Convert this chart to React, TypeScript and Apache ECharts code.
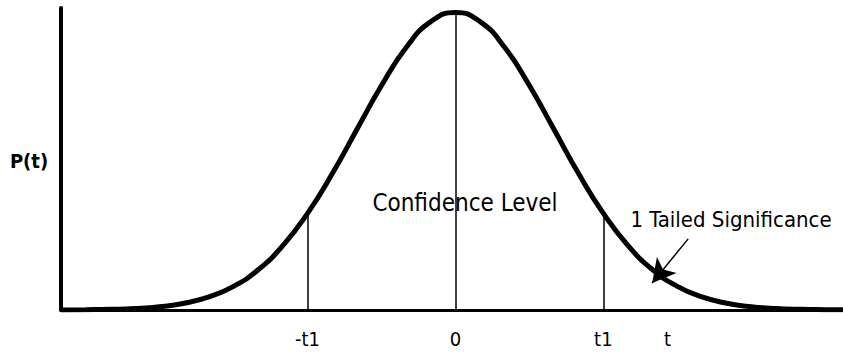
import React, { useEffect, useRef } from "react";
import * as echarts from "echarts";

// t values (x) and P(t) values (y)
const tValues = [-4, -3.75, -3.5, -3.25, -3, -2.75, -2.5, -2.25, -2, -1.75, -1.5, -1.25, -1, -0.75, -0.5, -0.25, 0, 0.25, 0.5, 0.75, 1, 1.25, 1.5, 1.75, 2, 2.25, 2.5, 2.75, 3, 3.25, 3.5, 3.75, 3.93];
const pValues = [0.0001, 0.0004, 0.0009, 0.002, 0.0044, 0.0091, 0.0175, 0.0317, 0.054, 0.0863, 0.1295, 0.1826, 0.242, 0.3011, 0.3521, 0.3867, 0.3989, 0.3867, 0.3521, 0.3011, 0.242, 0.1826, 0.1295, 0.0863, 0.054, 0.0317, 0.0175, 0.0091, 0.0044, 0.002, 0.0009, 0.0004, 0.0002];

// vertical reference lines: [t, height]
const refLines: [number, number][] = [[-1.5, 0.1295], [0, 0.3989], [1.5, 0.1295]];

// tick labels on the t axis
const tickValues = [-1.5, 0, 1.5, 2.15];
const tickLabels = ["-t1", "0", "t1", "t"];

// arrow pointing at the tail: [start, end]
const arrowStart: [number, number] = [2.36, 0.0954];
const arrowEnd: [number, number] = [1.995, 0.0363];

const FONT = "'DejaVu Sans Condensed', 'DejaVu Sans', sans-serif";

export default function App() {
  const ref = useRef<HTMLDivElement>(null);
  useEffect(() => {
    if (!ref.current) return;
    const chart = echarts.init(ref.current, undefined, { renderer: "svg" });
    const data = tValues.map((t, i) => [t, pValues[i]]);
    chart.setOption({
      animation: false,
      backgroundColor: "#fff",
      grid: { left: 61, right: 0, top: 8, bottom: 46 },
      xAxis: {
        type: "value",
        min: -4,
        max: 3.93,
        axisLine: { show: true, onZero: false, lineStyle: { color: "#000", width: 3 } },
        axisTick: { show: false },
        splitLine: { show: false },
        axisLabel: {
          customValues: tickValues,
          formatter: (v: number) => {
            const i = tickValues.findIndex((x) => Math.abs(x - v) < 1e-6);
            return i >= 0 ? tickLabels[i] : "";
          },
          color: "#000",
          fontSize: 20,
          fontFamily: FONT,
          margin: 19,
        },
      },
      yAxis: {
        type: "value",
        min: 0,
        max: 0.405,
        axisLine: { show: true, onZero: false, lineStyle: { color: "#000", width: 4 } },
        axisTick: { show: false },
        axisLabel: { show: false },
        splitLine: { show: false },
      },
      series: [
        {
          type: "line",
          data,
          smooth: true,
          showSymbol: false,
          lineStyle: { color: "#000", width: 5 },
          markLine: {
            silent: true,
            symbol: ["none", "none"],
            label: { show: false },
            lineStyle: { color: "#000", width: 1.5, type: "solid" },
            data: [
              ...refLines.map(([t, h]) => [
                { coord: [t, 0] },
                { coord: [t, h] },
              ]),
              [
                { coord: arrowStart, symbol: "none" },
                { coord: arrowEnd, symbol: "arrow", symbolSize: [19, 23] },
              ],
            ],
          },
        },
      ],
      graphic: [
        {
          type: "text",
          x: 29,
          y: 161,
          style: { text: "P(t)", fontSize: 20, fontWeight: "bold", fontFamily: FONT, fill: "#000", textAlign: "center", textVerticalAlign: "middle" },
        },
        {
          type: "text",
          x: 465,
          y: 203,
          style: { text: "Confidence Level", fontSize: 24, fontFamily: FONT, fill: "#000", textAlign: "center", textVerticalAlign: "middle" },
        },
        {
          type: "text",
          x: 731,
          y: 219,
          style: { text: "1 Tailed Significance", fontSize: 22, fontFamily: FONT, fill: "#000", textAlign: "center", textVerticalAlign: "middle" },
        },
      ],
    });
    return () => chart.dispose();
  }, []);
  return <div ref={ref} style={{ position: "absolute", left: 0, top: 0, width: 843, height: 356 }} />;
}
